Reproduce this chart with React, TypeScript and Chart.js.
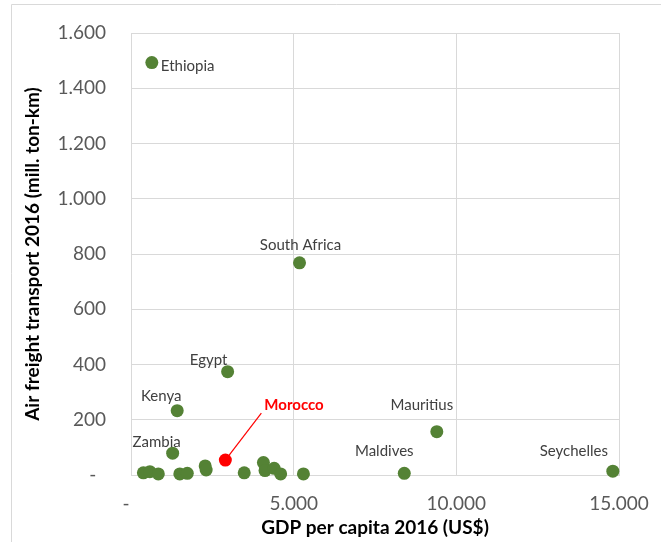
import React, { useEffect, useRef } from 'react';
import { Chart, registerables } from 'chart.js';

Chart.register(...registerables);

// Labelled countries
const labelledNames = ['Ethiopia', 'South Africa', 'Egypt', 'Kenya', 'Zambia', 'Mauritius', 'Maldives', 'Seychelles'];
const labelledGdp = [640, 5180, 2970, 1420, 1280, 9400, 8400, 14810];
const labelledFreight = [1493, 768, 374, 233, 79, 157, 6, 14];

// Other (unlabelled) countries
const otherGdp = [380, 580, 840, 1500, 1730, 2280, 2310, 3480, 4070, 4120, 4400, 4600, 5300];
const otherFreight = [8, 12, 4, 4, 6, 33, 18, 8, 45, 16, 24, 4, 4];

// Highlighted country
const moroccoName = 'Morocco';
const moroccoGdp = [2900];
const moroccoFreight = [54];

const xMin = 0;
const xMax = 15000;
const xStep = 5000;
const yMin = 0;
const yMax = 1600;
const yStep = 200;

const xTitle = 'GDP per capita 2016 (US$)';
const yTitle = 'Air freight transport 2016 (mill. ton-km)';

// label placement (styling only)
const labelPlacement: Record<string, { dx: number; dy: number; align: CanvasTextAlign }> = {
  'Ethiopia': { dx: 9, dy: 4, align: 'left' },
  'South Africa': { dx: 1, dy: -18, align: 'center' },
  'Egypt': { dx: -19, dy: -12, align: 'center' },
  'Kenya': { dx: -16, dy: -14, align: 'center' },
  'Zambia': { dx: -16, dy: -11, align: 'center' },
  'Mauritius': { dx: -15, dy: -26, align: 'center' },
  'Maldives': { dx: -20, dy: -22, align: 'center' },
  'Seychelles': { dx: -39, dy: -20, align: 'center' },
};

const fmt = (v: number) =>
  v === 0 ? '-  ' : String(Math.round(v)).replace(/\B(?=(\d{3})+(?!\d))/g, '.');

const GREEN = '#548235';
const RED = '#ff0000';

const annotPlugin = {
  id: 'annot',
  beforeDraw(chart: any) {
    const ctx = chart.ctx;
    ctx.save();
    ctx.strokeStyle = '#d9d9d9';
    ctx.lineWidth = 1;
    ctx.beginPath();
    ctx.moveTo(11.5, 542);
    ctx.lineTo(11.5, 4.5);
    ctx.lineTo(661, 4.5);
    ctx.stroke();
    ctx.restore();
  },
  beforeDatasetsDraw(chart: any) {
    const ctx = chart.ctx;
    const meta = chart.getDatasetMeta(0);
    const pt = meta.data[0];
    if (!pt) return;
    ctx.save();
    ctx.strokeStyle = RED;
    ctx.lineWidth = 1.2;
    ctx.beginPath();
    ctx.moveTo(pt.x + 36, pt.y - 47);
    ctx.lineTo(pt.x, pt.y);
    ctx.stroke();
    ctx.restore();
  },
  afterDatasetsDraw(chart: any) {
    const ctx = chart.ctx;
    ctx.save();
    ctx.textBaseline = 'middle';
    const mp = chart.getDatasetMeta(0).data[0];
    if (mp) {
      ctx.font = 'bold 15px Lato';
      ctx.fillStyle = RED;
      ctx.textAlign = 'left';
      ctx.fillText(moroccoName, mp.x + 39, mp.y - 55);
    }
    const meta = chart.getDatasetMeta(1);
    ctx.font = '15px Lato';
    ctx.fillStyle = '#404040';
    labelledNames.forEach((name, i) => {
      const p = meta.data[i];
      const pl = labelPlacement[name];
      if (!p || !pl) return;
      ctx.textAlign = pl.align;
      ctx.fillText(name, p.x + pl.dx, p.y + pl.dy);
    });
    ctx.restore();
  },
};

export default function App() {
  const ref = useRef<HTMLCanvasElement | null>(null);

  useEffect(() => {
    if (!ref.current) return;
    const chart = new Chart(ref.current, {
      type: 'scatter',
      data: {
        datasets: [
          {
            label: moroccoName,
            data: moroccoGdp.map((x, i) => ({ x, y: moroccoFreight[i] })),
            backgroundColor: RED,
            borderColor: RED,
            borderWidth: 0,
            pointRadius: 6.5,
            clip: false as any,
          },
          {
            label: 'labelled',
            data: labelledGdp.map((x, i) => ({ x, y: labelledFreight[i] })),
            backgroundColor: GREEN,
            borderColor: GREEN,
            borderWidth: 0,
            pointRadius: 6.5,
            clip: false as any,
          },
          {
            label: 'others',
            data: otherGdp.map((x, i) => ({ x, y: otherFreight[i] })),
            backgroundColor: GREEN,
            borderColor: GREEN,
            borderWidth: 0,
            pointRadius: 6.5,
            clip: false as any,
          },
        ],
      },
      options: {
        responsive: false,
        maintainAspectRatio: false,
        animation: false,
        layout: { padding: { top: 33, right: 42, left: 0, bottom: 0 } },
        plugins: {
          legend: { display: false },
          tooltip: { enabled: false },
        },
        scales: {
          x: {
            type: 'linear',
            min: xMin,
            max: xMax,
            afterFit: (s: any) => {
              s.height = 67;
              s.paddingLeft = 0;
              s.paddingRight = 0;
            },
            ticks: {
              stepSize: xStep,
              padding: 17,
              color: '#595959',
              font: { family: 'Lato', size: 19 },
              callback: (v: any) => fmt(Number(v)),
            },
            grid: { color: '#d9d9d9', lineWidth: 1, drawTicks: false },
            border: { display: true, color: '#d9d9d9', width: 1 },
            title: {
              display: true,
              text: xTitle,
              color: '#000000',
              font: { family: 'Lato', size: 19, weight: 'bold' },
              padding: { top: 0, bottom: 3 },
            },
          },
          y: {
            type: 'linear',
            min: yMin,
            max: yMax,
            afterFit: (s: any) => {
              s.width = 131;
              s.paddingTop = 0;
              s.paddingBottom = 0;
            },
            ticks: {
              stepSize: yStep,
              padding: 25,
              color: '#595959',
              font: { family: 'Lato', size: 19 },
              callback: (v: any) => fmt(Number(v)),
            },
            grid: { color: '#d9d9d9', lineWidth: 1, drawTicks: false },
            border: { display: true, color: '#d9d9d9', width: 1 },
            title: {
              display: true,
              text: yTitle,
              color: '#000000',
              font: { family: 'Lato', size: 19, weight: 'bold' },
              padding: { top: 21.5, bottom: 0 },
            },
          },
        },
      },
      plugins: [annotPlugin],
    });
    return () => chart.destroy();
  }, []);

  return (
    <div style={{ position: 'absolute', left: 0, top: 0, width: 661, height: 542, background: '#ffffff' }}>
      <canvas ref={ref} width={661} height={542} style={{ display: 'block' }} />
    </div>
  );
}
